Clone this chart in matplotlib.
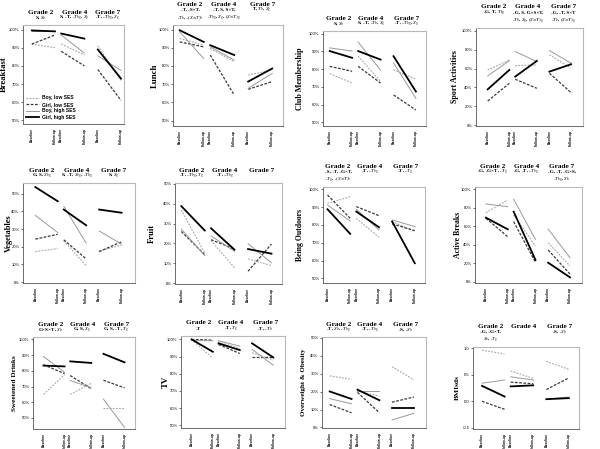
import matplotlib
matplotlib.use("Agg")
import matplotlib.pyplot as plt

plt.rcParams['mathtext.fontset'] = 'stix'

# ---------------- data ----------------
grades = ["Grade 2", "Grade 4", "Grade 7"]
times = ["Baseline", "Follow-up"]
series_names = ["Boy, low SES", "Girl, low SES", "Boy, high SES", "Girl, high SES"]

# rows: boy low, girl low, boy high, girl high
# cols: G2 base, G2 follow, G4 base, G4 follow, G7 base, G7 follow
breakfast = [[92, 90, 92, 86, 91, 72],
             [92, 97, 88, 80, 78, 61],
             [99, 99, 97, 87, 85.5, 77.5],
             [99.5, 99, 97.8, 95, 89, 73]]
lunch = [[95.1, 91.4, 89.6, 82.3, 75, 77.7],
         [93.2, 90.5, 86, 64, 67.2, 71.4],
         [98.7, 84.1, 90.5, 83.2, 67.7, 75.9],
         [99.6, 93.2, 91.4, 86, 71.4, 78.6]]
club = [[77.5, 72.2, 87.3, 73.1, 79.7, 74.4],
        [81.6, 78.8, 81.6, 72.2, 65.5, 57],
        [92, 90.2, 95.3, 79.4, 83.5, 63.6],
        [90.2, 86.4, 90.2, 85.4, 87.3, 67.4]]
sport = [[58.5, 69.1, 63.1, 63.8, 74.5, 60.3],
         [25.5, 44.3, 48.6, 39, 55, 34.4],
         [52.1, 68.4, 78, 67.4, 79.1, 65.6],
         [37.9, 58.5, 51.4, 68.1, 56.7, 64.5]]
vegetables = [[17.2, 19, 23.3, 9.3, 17.7, 20.9],
              [24.3, 27, 23.9, 13.1, 17.2, 22.8],
              [37.7, 28, 42.9, 22, 28.9, 21.5],
              [53.7, 45.7, 41, 32.1, 41, 39.2]]
fruit = [[36.8, 15.2, 21.5, 7.8, 12.3, 8.9],
         [26, 14.4, 21.9, 17.2, 6.1, 19.7],
         [27.2, 13.9, 23.8, 16.1, 19.9, 10.3],
         [38.7, 26.5, 27.6, 16.9, 17.2, 14.9]]
outdoors = [[92.1, 95.9, 83.7, 73.1, 81.9, 76.3],
            [96.8, 83.7, 90.3, 85.2, 80.6, 76.8],
            [91.2, 82.2, 88.8, 77.2, 82.8, 79.1],
            [88.8, 75, 87.5, 78.7, 81.9, 58.5]]
active = [[74.7, 88.4, 72.2, 38.6, 42.2, 17],
          [68.6, 48.7, 65, 20.9, 34.3, 8.3],
          [84.1, 81.2, 89.2, 45.8, 57, 26],
          [69.3, 56.7, 75.8, 23.5, 20.6, 4.7]]
sweetened = [[65, 77.6, 65, 72, 56.3, 56.3],
             [83.9, 78.2, 77, 68.6, 74, 69.2],
             [89.1, 79.1, 73.8, 69.2, 62, 44],
             [83.3, 82.8, 86, 85, 90.8, 85.4]]
tv = [[100, 89, 98.6, 94.7, 92.2, 88],
      [100, 99.6, 97.1, 91.8, 89.5, 89.5],
      [99.4, 99.2, 99.2, 96.1, 94.2, 85],
      [100, 92.8, 97.7, 93.8, 97.7, 89.5]]
overweight = [[28.8, 26.9, 20.5, 17.4, 33.9, 26.6],
              [12.8, 8.2, 19.6, 8.2, 14.1, 17],
              [16.1, 13.2, 20.1, 20.1, 4.2, 7.9],
              [20.1, 15.9, 21.1, 15.2, 11, 11]]
bmisds = [[0.96, 0.89, 0.57, 0.43, 0.75, 0.60],
          [0.0, -0.15, 0.36, 0.33, 0.22, 0.44],
          [0.34, 0.40, 0.46, 0.40, 0.04, 0.08],
          [0.29, 0.09, 0.28, 0.30, 0.04, 0.06]]

panel_names = ["Breakfast", "Lunch", "Club Membership", "Sport Activities",
               "Vegetables", "Fruit", "Being Outdoors", "Active Breaks",
               "Sweetened Drinks", "TV", "Overweight & Obesity", "BMIsds"]
panel_values = [breakfast, lunch, club, sport, vegetables, fruit, outdoors,
                active, sweetened, tv, overweight, bmisds]

breakfast_sub = [["S, $S_b$"], ["S, -T, -$T_{bg}$, $S_g$"], ["-T, -$T_{bg}$, $S_g$"]]
lunch_sub = [["-T, -S×T,", "-$T_b$, -$(S{\\times}T)_b$"],
             ["-T, S, S×T,", "-$T_{bg}$, $S_g$, $(S{\\times}T)_g$"],
             ["T, $T_b$, $S_g$"]]
club_sub = [["S, $S_b$"], ["S, -T, -$T_b$, $S_g$"], ["-T, -$T_{bg}$, $S_g$"]]
sport_sub = [["-G, T, $T_{bg}$"],
             ["-G, S, G×S×T,", "-$T_b$, $S_g$, $(S{\\times}T)_g$"],
             ["-G, -T, S×T", "-$T_b$, $(S{\\times}T)_g$"]]
veg_sub = [["G, S, $S_{bg}$"], ["S, -T, $S_{bg}$, -$T_{bg}$"], ["S, $S_g$"]]
fruit_sub = [["-T, -$T_{bg}$, $T_g$"], ["-T, -$T_{bg}$"], []]
outdoors_sub = [["-S, -T, -G×T,", "-$T_g$, -$(S{\\times}T)_b$"], ["-T, -$T_{bg}$"], ["-T, -$T_g$"]]
active_sub = [["-G, -G×T, -$T_g$"], ["-G, -T, -$T_{bg}$"], ["-G, -T, -G×S,", "-$T_{bg}$, $S_b$"]]
sweet_sub = [["G×S×T, $S_b$"], ["G, S, $S_g$"], ["G, S, -T, $T_g$"]]
tv_sub = [["-T"], ["-T, $T_g$"], ["-T, -$T_b$"]]
over_sub = [["-T, $S_b$, -$T_{bg}$"], ["-T, -$T_{bg}$"], ["-S, -$S_b$"]]
bmi_sub = [["-G, -G×T,", "$S_b$, -$T_g$"], [], ["-S, -$S_b$"]]
panel_subs = [breakfast_sub, lunch_sub, club_sub, sport_sub, veg_sub, fruit_sub,
              outdoors_sub, active_sub, sweet_sub, tv_sub, over_sub, bmi_sub]

ticks_50_100 = [50, 60, 70, 80, 90, 100]
ticks_0_100 = [0, 20, 40, 60, 80, 100]
ticks_0_50 = [0, 10, 20, 30, 40, 50]
ticks_bmi = [-0.5, 0.0, 0.5, 1.0]
panel_ticks = [ticks_50_100, ticks_50_100, ticks_50_100, ticks_0_100,
               ticks_0_50, ticks_0_50, ticks_50_100, ticks_0_100,
               ticks_50_100, ticks_50_100, ticks_0_50, ticks_bmi]

# ---------------- layout ----------------
W, H = 600, 449
fig = plt.figure(figsize=(6.0, 4.49), dpi=100)

# axes boxes in pixels (left, top, right, bottom)
boxes = [(23, 25, 124, 124), (173, 25, 283, 126), (323, 31, 426, 126), (476, 28, 583, 126),
         (23, 183, 135, 283), (175, 183, 282, 284), (323, 187, 425, 283), (475, 187, 582, 283),
         (33, 337, 135, 429), (181, 336, 285, 428), (322, 337, 426, 428), (473, 347, 579, 429)]
ylims = [(48, 102.5), (47, 102.5), (48, 101.5), (-1, 103),
         (-0.5, 56), (-0.3, 50.3), (47.4, 101.3), (-1.4, 102.5),
         (43, 101.5), (48.4, 102), (-0.3, 50.5), (-0.52, 1.02)]
xlims = [(-0.38, 3.98), (-0.28, 4.3), (-0.3, 4.3), (-0.54, 4.4),
         (-0.55, 4.45), (-0.27, 4.3), (-0.2, 4.3), (-0.5, 4.4),
         (-0.5, 4.35), (-0.5, 4.4), (-0.35, 4.4), (-0.4, 4.3)]
ylab_px = [-15.5, -14, -18.5, -17, -10.5, -19, -19, -13, -15.5, -11, -16, -13]
ylab_size = [6.2, 6.4, 5.8, 5.8, 6.0, 6.2, 5.6, 5.6, 5.2, 6.4, 5.0, 5.4]

xs = [0, 1, 1.27, 2.27, 2.85, 3.85]
styles = [dict(color='#a8a8a8', ls=(0, (1.6, 1.2)), lw=0.8),
          dict(color='#3a3a3a', ls=(0, (2.2, 1.2)), lw=0.9),
          dict(color='#9a9a9a', ls='-', lw=0.7),
          dict(color='black', ls='-', lw=1.3)]

serif = 'Liberation Serif'
sans = 'Liberation Sans'
PX = 0.72  # points per pixel

for i, name in enumerate(panel_names):
    l, t, r, b = boxes[i]
    ax = fig.add_axes([l / W, 1 - b / H, (r - l) / W, (b - t) / H])
    vals = panel_values[i]
    handles = []
    for s, series in enumerate(vals):
        for g in range(3):
            ln, = ax.plot(xs[2 * g:2 * g + 2], series[2 * g:2 * g + 2], **styles[s],
                          label=series_names[s] if g == 0 else None)
            if g == 0:
                handles.append(ln)
    x0, x1 = xlims[i]
    ax.set_xlim(x0, x1)
    ax.set_ylim(*ylims[i])
    ax.set_xticks(xs)
    ax.set_xticklabels(times * 3, rotation=90, fontsize=2.4, family=sans,
                       fontweight='bold', va='top')
    ax.tick_params(axis='x', length=0, pad=2.5)
    yt = panel_ticks[i]
    ax.set_yticks(yt)
    if name == "BMIsds":
        ax.set_yticklabels([f"{v:.1f}" for v in yt])
    else:
        ax.set_yticklabels([f"{v}%" for v in yt])
    ax.tick_params(axis='y', labelsize=3.0, length=1.5, width=0.4, pad=1)
    for lab in ax.get_yticklabels():
        lab.set_family(sans)
    for side in ['top', 'right']:
        ax.spines[side].set_color('#b8b8b8')
        ax.spines[side].set_linewidth(0.8)
    for side in ['left', 'bottom']:
        ax.spines[side].set_color('#555555')
        ax.spines[side].set_linewidth(0.6)
    ax.set_ylabel(name, fontsize=ylab_size[i], fontweight='bold', family=serif)
    ax.yaxis.set_label_coords(ylab_px[i] / (r - l), 0.5)

    # centres of the three grade cells
    edges = [x0, (xs[1] + xs[2]) / 2, (xs[3] + xs[4]) / 2, x1]
    subs = panel_subs[i]
    n = max(len(sl) for sl in subs)
    for g in range(3):
        xc = (edges[g] + edges[g + 1]) / 2
        gy = (3 + 4 + 8 * (n - 1) + 6) * PX
        ax.annotate(grades[g], xy=(xc, 1), xycoords=ax.get_xaxis_transform(),
                    xytext=(0, gy), textcoords='offset points', ha='center', va='center',
                    fontsize=5.2, fontweight='bold', family=serif)
        for k, line in enumerate(subs[g]):
            sy = (3 + 4 + 8 * (n - 1) - 8 * k) * PX
            ax.annotate(line, xy=(xc, 1), xycoords=ax.get_xaxis_transform(),
                        xytext=(0, sy), textcoords='offset points', ha='center',
                        va='center', fontsize=3.7, fontweight='bold', family=serif)

    if i == 0:
        leg = ax.legend(handles=handles, loc='upper left', bbox_to_anchor=(0.01, 0.31),
                        frameon=False, fontsize=3.6, handlelength=2.6,
                        handletextpad=0.5, labelspacing=0.3, borderaxespad=0)
        for txt in leg.get_texts():
            txt.set_family(sans)
            txt.set_fontweight('bold')

fig.savefig("out.png", dpi=100)
